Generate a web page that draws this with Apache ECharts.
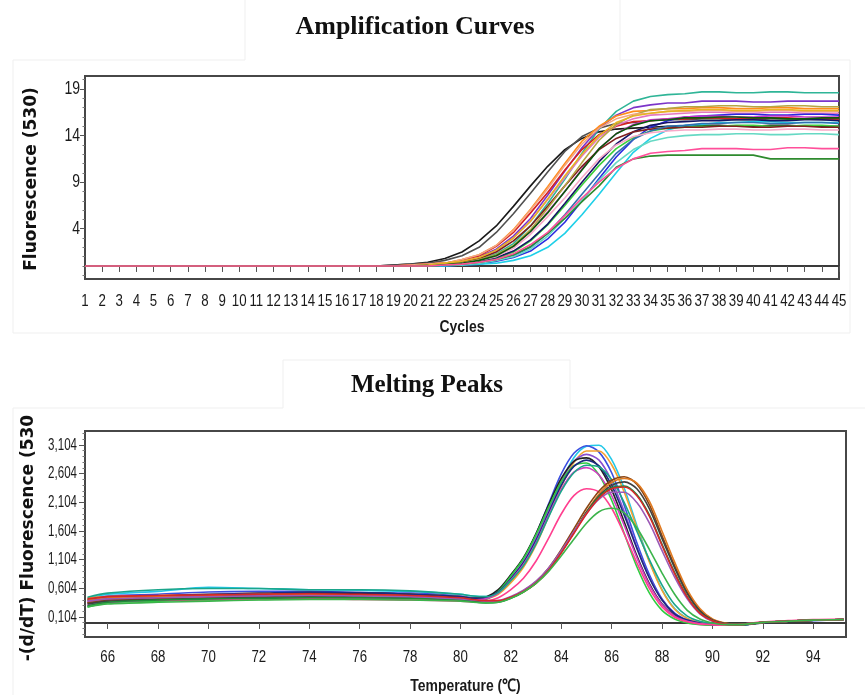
<!DOCTYPE html>
<html>
<head>
<meta charset="utf-8">
<script src="https://cdn.jsdelivr.net/npm/echarts@6/dist/echarts.min.js"></script>
<style>
  html, body { margin: 0; padding: 0; background: #fff; }
  #chart { width: 865px; height: 695px; }
</style>
</head>
<body>
<div id="chart"></div>
<script>
// ---------- Amplification curves: fluorescence (530) per cycle ----------
const CYCLES = [1, 18, 19, 20, 21, 22, 23, 24, 25, 26, 27, 28, 29, 30, 31, 32, 33, 34, 35, 36, 37, 38, 39, 40, 41, 42, 43, 44, 45];

const amp01 = [0.0, 0.0, 0.1, 0.2, 0.4, 0.8, 1.5, 2.7, 4.3, 6.4, 8.6, 10.7, 12.5, 13.7, 14.4, 14.7, 14.8, 14.9, 15.0, 15.0, 15.1, 15.1, 15.0, 15.0, 15.1, 15.1, 15.0, 15.0, 15.0];
const amp02 = [0.0, 0.0, 0.1, 0.2, 0.3, 0.6, 1.1, 2.0, 3.6, 5.6, 7.8, 10.1, 12.3, 13.9, 14.8, 15.3, 15.4, 15.6, 15.7, 15.7, 15.8, 15.8, 15.7, 15.7, 15.8, 15.8, 15.8, 15.7, 15.7];
const amp03 = [0.0, 0.0, 0.0, 0.0, 0.1, 0.2, 0.4, 0.7, 1.3, 2.4, 4.3, 6.7, 9.3, 12.1, 14.7, 16.6, 17.7, 18.2, 18.4, 18.5, 18.7, 18.7, 18.6, 18.6, 18.7, 18.7, 18.6, 18.6, 18.6];
const amp04 = [0.0, 0.0, 0.0, 0.0, 0.1, 0.3, 0.5, 1.0, 1.8, 3.2, 5.1, 7.6, 10.2, 12.7, 14.8, 16.2, 17.0, 17.3, 17.5, 17.5, 17.7, 17.7, 17.7, 17.6, 17.6, 17.7, 17.7, 17.7, 17.7];
const amp05 = [0.0, 0.0, 0.0, 0.1, 0.2, 0.3, 0.7, 1.2, 2.2, 3.9, 6.1, 8.5, 11.0, 13.4, 15.0, 16.1, 16.6, 16.7, 16.9, 16.9, 17.0, 17.0, 16.9, 16.9, 17.0, 17.0, 16.9, 16.9, 16.9];
const amp06 = [0.0, 0.0, 0.0, 0.1, 0.2, 0.3, 0.6, 1.1, 2.1, 3.6, 5.7, 7.9, 10.3, 12.5, 14.1, 15.0, 15.5, 15.6, 15.8, 15.8, 15.9, 15.9, 15.8, 15.8, 15.9, 15.9, 15.8, 15.8, 15.8];
const amp07 = [0.0, 0.0, 0.0, 0.0, 0.1, 0.2, 0.5, 0.9, 1.6, 3.0, 4.8, 7.1, 9.5, 11.8, 13.8, 15.1, 15.8, 16.2, 16.3, 16.4, 16.5, 16.5, 16.4, 16.4, 16.5, 16.5, 16.4, 16.4, 16.4];
const amp08 = [0.0, 0.0, 0.0, 0.0, 0.0, 0.0, 0.1, 0.2, 0.5, 0.9, 1.6, 2.9, 4.7, 7.0, 9.4, 11.7, 13.6, 14.9, 15.6, 16.0, 16.1, 16.2, 16.3, 16.3, 16.2, 16.2, 16.3, 16.3, 16.2];
const amp09 = [0.0, 0.0, 0.0, 0.0, 0.0, 0.0, 0.1, 0.2, 0.3, 0.6, 1.1, 2.0, 3.5, 5.5, 7.7, 10.0, 12.2, 13.7, 14.6, 15.1, 15.2, 15.4, 15.4, 15.5, 15.5, 15.4, 15.4, 15.4, 15.4];
const amp10 = [0.0, 0.0, 0.0, 0.0, 0.0, 0.1, 0.2, 0.5, 0.8, 1.5, 2.7, 4.4, 6.5, 8.7, 10.8, 12.6, 13.8, 14.5, 14.8, 14.9, 15.0, 15.0, 15.1, 15.1, 15.0, 15.0, 15.1, 15.1, 15.0];
const amp11 = [0.0, 0.0, 0.0, 0.0, 0.1, 0.2, 0.3, 0.6, 1.1, 2.1, 3.7, 5.8, 8.0, 10.4, 12.6, 14.2, 15.2, 15.7, 15.8, 16.0, 16.1, 16.1, 16.0, 16.0, 16.1, 16.1, 16.0, 16.0, 16.0];
const amp12 = [0.0, 0.0, 0.0, 0.0, 0.0, 0.1, 0.2, 0.5, 0.9, 1.6, 2.8, 4.5, 6.7, 9.0, 11.2, 13.1, 14.4, 15.1, 15.4, 15.5, 15.6, 15.6, 15.7, 15.7, 15.6, 15.6, 15.7, 15.7, 15.6];
const amp13 = [0.0, 0.0, 0.0, 0.0, 0.1, 0.2, 0.4, 0.8, 1.5, 2.7, 4.3, 6.4, 8.6, 10.7, 12.5, 13.7, 14.4, 14.7, 14.8, 14.9, 14.9, 15.0, 15.0, 14.9, 14.9, 15.0, 15.0, 14.9, 14.9];
const amp14 = [0.0, 0.0, 0.0, 0.0, 0.1, 0.2, 0.3, 0.7, 1.2, 2.2, 3.9, 6.2, 8.6, 11.1, 13.5, 15.2, 16.2, 16.8, 16.9, 17.1, 17.1, 17.2, 17.2, 17.1, 17.1, 17.2, 17.2, 17.1, 17.1];
const amp15 = [0.0, 0.0, 0.0, 0.0, 0.0, 0.1, 0.2, 0.3, 0.6, 1.1, 2.0, 3.5, 5.5, 7.7, 9.9, 12.1, 13.6, 14.5, 15.0, 15.1, 15.3, 15.3, 15.4, 15.4, 15.3, 15.3, 15.4, 15.4, 15.3];
const amp16 = [0.0, 0.0, 0.0, 0.1, 0.2, 0.3, 0.7, 1.2, 2.2, 3.8, 6.0, 8.3, 10.8, 13.1, 14.8, 15.8, 16.3, 16.4, 16.6, 16.6, 16.7, 16.7, 16.6, 16.6, 16.7, 16.7, 16.6, 16.6, 16.6];
const amp17 = [0.0, 0.0, 0.0, 0.0, 0.0, 0.1, 0.1, 0.3, 0.6, 1.0, 1.8, 3.2, 5.1, 7.1, 9.2, 11.1, 12.5, 13.4, 13.8, 14.0, 14.1, 14.1, 14.2, 14.2, 14.1, 14.1, 14.2, 14.2, 14.1];
const amp18 = [0.0, 0.0, 0.0, 0.0, 0.1, 0.1, 0.3, 0.6, 1.0, 1.9, 3.4, 5.3, 7.3, 9.5, 11.5, 13.0, 13.9, 14.3, 14.5, 14.6, 14.6, 14.7, 14.7, 14.6, 14.6, 14.7, 14.7, 14.6, 14.6];
const amp19 = [0.0, 0.0, 0.0, 0.0, 0.1, 0.2, 0.3, 0.6, 1.1, 2.1, 3.7, 5.7, 8.0, 10.3, 12.6, 14.2, 15.1, 15.6, 15.7, 15.9, 15.9, 16.0, 16.0, 15.9, 15.9, 15.8, 15.8, 15.9, 15.9];
const amp20 = [0.0, 0.0, 0.0, 0.0, 0.1, 0.3, 0.5, 0.9, 1.7, 3.0, 4.8, 7.2, 9.7, 12.0, 14.0, 15.4, 16.1, 16.4, 16.6, 16.7, 16.8, 16.8, 16.7, 16.7, 16.8, 16.8, 16.7, 16.7, 16.7];
const amp21 = [0.0, 0.0, 0.0, 0.0, 0.0, 0.1, 0.2, 0.4, 0.7, 1.2, 2.1, 3.5, 5.1, 6.9, 8.6, 10.6, 11.5, 11.8, 11.9, 11.9, 11.9, 11.9, 11.9, 11.9, 11.5, 11.5, 11.5, 11.5, 11.5];
const amp22 = [0.0, 0.0, 0.0, 0.0, 0.0, 0.1, 0.2, 0.4, 0.7, 1.3, 2.3, 3.6, 5.4, 7.3, 9.0, 10.5, 11.5, 12.1, 12.3, 12.4, 12.6, 12.6, 12.6, 12.5, 12.5, 12.7, 12.7, 12.6, 12.6];

const AMP_X_TICKS = [1, 2, 3, 4, 5, 6, 7, 8, 9, 10, 11, 12, 13, 14, 15, 16, 17, 18, 19, 20, 21, 22, 23,
                     24, 25, 26, 27, 28, 29, 30, 31, 32, 33, 34, 35, 36, 37, 38, 39, 40, 41, 42, 43, 44, 45];
const AMP_Y_TICKS = [4, 9, 14, 19];

// ---------- Melting peaks: -(d/dT) fluorescence (530) per temperature ----------
const TEMPS = [65.2, 66, 68, 70, 72, 74, 76, 78, 80, 80.5, 81, 81.5, 82, 82.5, 83, 83.5, 84, 84.5, 85, 85.5, 86, 86.5, 87, 87.5, 88, 88.5, 89, 89.5, 90, 90.5, 91, 92, 93, 94, 95.2];

const melt01 = [0.42, 0.50, 0.55, 0.62, 0.60, 0.58, 0.57, 0.55, 0.50, 0.47, 0.46, 0.52, 0.72, 1.00, 1.40, 1.92, 2.45, 2.88, 3.08, 3.10, 2.85, 2.35, 1.70, 1.08, 0.58, 0.25, 0.08, 0.01, -0.02, -0.04, -0.04, 0.01, 0.03, 0.05, 0.06];
const melt02 = [0.38, 0.47, 0.50, 0.54, 0.55, 0.55, 0.53, 0.52, 0.47, 0.44, 0.45, 0.56, 0.82, 1.12, 1.55, 2.08, 2.60, 2.96, 3.09, 2.98, 2.62, 2.05, 1.40, 0.84, 0.42, 0.17, 0.05, 0.00, -0.03, -0.04, -0.04, 0.01, 0.03, 0.04, 0.06];
const melt03 = [0.44, 0.46, 0.48, 0.50, 0.52, 0.53, 0.52, 0.50, 0.46, 0.43, 0.43, 0.50, 0.70, 0.97, 1.36, 1.86, 2.38, 2.80, 3.00, 3.00, 2.76, 2.28, 1.66, 1.06, 0.57, 0.24, 0.08, 0.01, -0.02, -0.03, -0.04, 0.01, 0.03, 0.05, 0.06];
const melt04 = [0.30, 0.40, 0.44, 0.47, 0.48, 0.50, 0.50, 0.48, 0.44, 0.42, 0.43, 0.53, 0.78, 1.07, 1.48, 1.98, 2.48, 2.82, 2.94, 2.84, 2.48, 1.94, 1.32, 0.79, 0.40, 0.16, 0.05, 0.00, -0.03, -0.04, -0.03, 0.01, 0.03, 0.05, 0.06];
const melt05 = [0.35, 0.42, 0.45, 0.48, 0.50, 0.52, 0.52, 0.50, 0.45, 0.43, 0.45, 0.58, 0.84, 1.14, 1.56, 2.06, 2.52, 2.82, 2.88, 2.72, 2.32, 1.76, 1.17, 0.68, 0.33, 0.13, 0.03, -0.01, -0.03, -0.04, -0.03, 0.01, 0.03, 0.05, 0.06];
const melt06 = [0.28, 0.35, 0.38, 0.40, 0.41, 0.42, 0.42, 0.41, 0.40, 0.39, 0.41, 0.55, 0.82, 1.12, 1.54, 2.02, 2.46, 2.74, 2.79, 2.58, 2.14, 1.56, 0.98, 0.52, 0.22, 0.07, 0.00, -0.03, -0.04, -0.04, -0.03, 0.01, 0.03, 0.05, 0.06];
const melt07 = [0.40, 0.45, 0.47, 0.50, 0.52, 0.54, 0.53, 0.50, 0.46, 0.43, 0.44, 0.54, 0.77, 1.05, 1.44, 1.92, 2.40, 2.73, 2.84, 2.74, 2.40, 1.88, 1.30, 0.78, 0.40, 0.16, 0.05, 0.00, -0.03, -0.04, -0.04, 0.00, 0.03, 0.05, 0.06];
const melt08 = [0.32, 0.36, 0.40, 0.42, 0.44, 0.45, 0.44, 0.43, 0.41, 0.40, 0.42, 0.52, 0.75, 1.02, 1.40, 1.88, 2.33, 2.63, 2.71, 2.58, 2.22, 1.70, 1.14, 0.66, 0.32, 0.12, 0.03, -0.01, -0.03, -0.04, -0.03, 0.01, 0.03, 0.05, 0.06];
const melt09 = [0.45, 0.52, 0.58, 0.60, 0.60, 0.58, 0.58, 0.56, 0.50, 0.47, 0.46, 0.53, 0.74, 1.00, 1.38, 1.85, 2.30, 2.62, 2.75, 2.72, 2.50, 2.10, 1.60, 1.10, 0.66, 0.32, 0.12, 0.03, -0.01, -0.03, -0.04, 0.01, 0.03, 0.05, 0.06];
const melt10 = [0.36, 0.40, 0.40, 0.41, 0.42, 0.42, 0.41, 0.40, 0.38, 0.37, 0.38, 0.44, 0.58, 0.78, 1.08, 1.48, 1.90, 2.22, 2.34, 2.28, 2.00, 1.55, 1.05, 0.60, 0.28, 0.10, 0.02, -0.02, -0.03, -0.04, -0.03, 0.02, 0.04, 0.06, 0.07];
const melt11 = [0.35, 0.40, 0.42, 0.44, 0.46, 0.47, 0.47, 0.45, 0.42, 0.39, 0.37, 0.38, 0.45, 0.56, 0.72, 0.96, 1.28, 1.64, 2.00, 2.30, 2.49, 2.55, 2.42, 2.06, 1.52, 1.00, 0.54, 0.23, 0.06, -0.01, -0.03, 0.01, 0.03, 0.05, 0.06];
const melt12 = [0.40, 0.44, 0.46, 0.48, 0.50, 0.50, 0.49, 0.47, 0.43, 0.40, 0.38, 0.38, 0.44, 0.54, 0.69, 0.92, 1.23, 1.58, 1.94, 2.25, 2.45, 2.52, 2.44, 2.12, 1.60, 1.06, 0.58, 0.25, 0.07, 0.00, -0.03, 0.01, 0.03, 0.05, 0.06];
const melt13 = [0.33, 0.38, 0.41, 0.43, 0.45, 0.46, 0.46, 0.44, 0.41, 0.38, 0.36, 0.37, 0.44, 0.55, 0.70, 0.93, 1.24, 1.58, 1.93, 2.22, 2.40, 2.46, 2.34, 1.99, 1.47, 0.96, 0.51, 0.21, 0.05, -0.01, -0.03, 0.00, 0.03, 0.05, 0.06];
const melt14 = [0.30, 0.36, 0.40, 0.42, 0.43, 0.44, 0.44, 0.43, 0.40, 0.37, 0.35, 0.36, 0.43, 0.54, 0.70, 0.93, 1.24, 1.58, 1.92, 2.20, 2.36, 2.39, 2.24, 1.88, 1.37, 0.88, 0.46, 0.18, 0.04, -0.02, -0.03, 0.01, 0.03, 0.05, 0.06];
const melt15 = [0.38, 0.42, 0.44, 0.46, 0.47, 0.48, 0.47, 0.46, 0.42, 0.40, 0.38, 0.39, 0.46, 0.57, 0.73, 0.96, 1.26, 1.59, 1.91, 2.16, 2.28, 2.28, 2.10, 1.74, 1.26, 0.80, 0.42, 0.16, 0.03, -0.02, -0.03, 0.01, 0.03, 0.05, 0.06];
const melt16 = [0.42, 0.46, 0.48, 0.49, 0.50, 0.51, 0.50, 0.48, 0.44, 0.41, 0.39, 0.39, 0.45, 0.55, 0.70, 0.92, 1.22, 1.56, 1.90, 2.18, 2.34, 2.37, 2.22, 1.86, 1.35, 0.86, 0.45, 0.17, 0.04, -0.02, -0.03, 0.01, 0.03, 0.05, 0.06];
const melt17 = [0.28, 0.33, 0.36, 0.38, 0.40, 0.41, 0.41, 0.40, 0.38, 0.36, 0.35, 0.36, 0.43, 0.54, 0.69, 0.90, 1.17, 1.46, 1.74, 1.94, 2.00, 1.92, 1.66, 1.28, 0.87, 0.50, 0.22, 0.07, 0.00, -0.03, -0.03, 0.01, 0.03, 0.05, 0.06];

const MELT_Y_TICKS = [0.104, 0.604, 1.104, 1.604, 2.104, 2.604, 3.104];
const MELT_Y_LABELS = ['0,104', '0,604', '1,104', '1,604', '2,104', '2,604', '3,104'];
const MELT_X_TICKS = [66, 68, 70, 72, 74, 76, 78, 80, 82, 84, 86, 88, 90, 92, 94];

// ---------- axis ranges ----------
const AMP_X_MIN = 1, AMP_X_MAX = 45, AMP_Y_MIN = -1.4, AMP_Y_MAX = 20.4;
const MELT_X_MIN = 65.1, MELT_X_MAX = 95.3, MELT_Y_MIN = -0.245, MELT_Y_MAX = 3.348;

// ---------- styling ----------
const AMP_CURVES = [amp01, amp02, amp03, amp04, amp05, amp06, amp07, amp08, amp09, amp10, amp11,
                    amp12, amp13, amp14, amp15, amp16, amp17, amp18, amp19, amp20, amp21, amp22];
const AMP_COLORS = ['#1a1a1a', '#505050', '#2fb597', '#7b35c9', '#ff8c1a', '#d62020', '#e377c2', '#2a2ae0',
                    '#1fd0e8', '#3ccf3c', '#c832c8', '#141466', '#7f1f1f', '#b5a642', '#3070b0', '#f4a582',
                    '#66d9c4', '#f7a8c8', '#0a5a0a', '#e6b422', '#2e8b2e', '#ff4f9a'];
const MELT_CURVES = [melt01, melt02, melt03, melt04, melt05, melt06, melt07, melt08, melt09,
                     melt10, melt11, melt12, melt13, melt14, melt15, melt16, melt17];
const MELT_COLORS = ['#22c8e8', '#3a4ee0', '#f5a030', '#8a4fd0', '#222222', '#2ecc40', '#1c2a80', '#d040c0', '#1aa58a',
                     '#ff3f8f', '#8b4513', '#e07a20', '#404040', '#1e8c3a', '#9b59b6', '#d62728', '#3cb44b'];

const SANS = '"Liberation Sans", Arial, sans-serif';
const SERIF = '"Liberation Serif", "Times New Roman", serif';
const TXT = '#1a1a1a';
const SQUEEZE = 0.78;   // horizontal squeeze giving the narrow tick-label face

// minor tick positions between the labelled ticks
const ampMinor = [];
for (let v = -1; v <= 20; v++) if (AMP_Y_TICKS.indexOf(v) < 0) ampMinor.push(v);
const meltMinor = [];
for (let k = -3; k <= 32; k++) if (k % 5 !== 0) meltMinor.push(+(0.104 + k * 0.1).toFixed(3));

const series = [];
AMP_CURVES.forEach((vals, i) => {
  series.push({
    type: 'line', xAxisIndex: 0, yAxisIndex: 0,
    data: CYCLES.map((c, j) => [c, vals[j]]),
    showSymbol: false, silent: true,
    lineStyle: { width: 1.6, color: AMP_COLORS[i] },
    z: 3 + i
  });
});
MELT_CURVES.forEach((vals, i) => {
  series.push({
    type: 'line', xAxisIndex: 1, yAxisIndex: 2,
    data: TEMPS.map((t, j) => [t, vals[j]]),
    showSymbol: false, silent: true, smooth: 0.3,
    lineStyle: { width: 1.6, color: MELT_COLORS[i] },
    z: 3 + i
  });
});

const frame = { show: true, borderColor: '#474747', borderWidth: 2, backgroundColor: '#fff' };
const tick = (len, color, values) => ({ show: true, length: len, customValues: values, lineStyle: { color } });

const option = {
  animation: false,
  backgroundColor: '#fff',
  grid: [
    Object.assign({ left: 85, top: 76, width: 754, height: 203 }, frame),
    Object.assign({ left: 85, top: 431, width: 761, height: 206 }, frame)
  ],
  xAxis: [
    {
      type: 'value', gridIndex: 0, min: AMP_X_MIN, max: AMP_X_MAX, interval: 1,
      axisLine: { show: true, lineStyle: { color: '#3a3a3a', width: 2 } },
      axisTick: tick(6, '#555', AMP_X_TICKS),
      axisLabel: { show: false }, splitLine: { show: false }
    },
    {
      type: 'value', gridIndex: 1, min: MELT_X_MIN, max: MELT_X_MAX,
      axisLine: { show: true, lineStyle: { color: '#3a3a3a', width: 2 } },
      axisTick: tick(6, '#555', MELT_X_TICKS),
      axisLabel: { show: false }, splitLine: { show: false }
    }
  ],
  yAxis: [
    { type: 'value', gridIndex: 0, min: AMP_Y_MIN, max: AMP_Y_MAX, position: 'left',
      axisLine: { show: false }, axisTick: tick(5, '#555', AMP_Y_TICKS),
      axisLabel: { show: false }, splitLine: { show: false } },
    { type: 'value', gridIndex: 0, min: AMP_Y_MIN, max: AMP_Y_MAX, position: 'left',
      axisLine: { show: false }, axisTick: tick(2.5, '#777', ampMinor),
      axisLabel: { show: false }, splitLine: { show: false } },
    { type: 'value', gridIndex: 1, min: MELT_Y_MIN, max: MELT_Y_MAX, position: 'left',
      axisLine: { show: false }, axisTick: tick(6, '#555', MELT_Y_TICKS),
      axisLabel: { show: false }, splitLine: { show: false } },
    { type: 'value', gridIndex: 1, min: MELT_Y_MIN, max: MELT_Y_MAX, position: 'left',
      axisLine: { show: false }, axisTick: tick(2.5, '#777', meltMinor),
      axisLabel: { show: false }, splitLine: { show: false } }
  ],
  series: series
};

const chart = echarts.init(document.getElementById('chart'), null, { renderer: 'canvas' });
chart.setOption(option);

// ---------- text: titles, axis names and tick labels placed through the axis scales ----------
function label(x, y, text, align, opts) {
  opts = opts || {};
  return {
    type: 'text', x: x, y: y, scaleX: opts.scaleX || SQUEEZE, rotation: opts.rotation || 0, silent: true, z: 50,
    style: { text: text, fontFamily: opts.family || SANS, fontSize: opts.size || 17, fontWeight: opts.weight || 'normal',
             fill: opts.fill || TXT, align: align, verticalAlign: 'middle' }
  };
}
const px = (grid, pt) => chart.convertToPixel({ gridIndex: grid }, pt);

const graphics = [
  // faint panel outlines
  { type: 'polyline', silent: true, z: 0, shape: { points: [[245, 0], [245, 60], [13, 60], [13, 333], [850, 333], [850, 60], [620, 60], [620, 0]] },
    style: { stroke: '#efefef', lineWidth: 1, fill: null } },
  { type: 'polyline', silent: true, z: 0, shape: { points: [[283, 360], [283, 408], [13, 408], [13, 695]] },
    style: { stroke: '#efefef', lineWidth: 1, fill: null } },
  { type: 'polyline', silent: true, z: 0, shape: { points: [[283, 360], [570, 360], [570, 408], [865, 408]] },
    style: { stroke: '#efefef', lineWidth: 1, fill: null } },
  // titles
  label(415, 27, 'Amplification Curves', 'center', { family: SERIF, size: 26, weight: 'bold', scaleX: 1, fill: '#111' }),
  label(427, 386, 'Melting Peaks', 'center', { family: SERIF, size: 25, weight: 'bold', scaleX: 1, fill: '#111' }),
  // y-axis names
  label(32, 179, 'Fluorescence (530)', 'center', { family: '"DejaVu Sans", sans-serif', size: 17, weight: 'bold', scaleX: 1, rotation: Math.PI / 2, fill: '#111' }),
  label(29, 538, '-(d/dT) Fluorescence (530', 'center', { family: '"DejaVu Sans", sans-serif', size: 17, weight: 'bold', scaleX: 1, rotation: Math.PI / 2, fill: '#111' })
];

// amplification axes
AMP_X_TICKS.forEach(v => {
  const p = px(0, [v, AMP_Y_MIN]);
  graphics.push(label(p[0], p[1] + 22, String(v), 'center'));
});
AMP_Y_TICKS.forEach(v => {
  const p = px(0, [AMP_X_MIN, v]);
  graphics.push(label(p[0] - 5, p[1], String(v), 'right', { size: 18 }));
});
{
  const a = px(0, [AMP_X_MIN, AMP_Y_MIN]), b = px(0, [AMP_X_MAX, AMP_Y_MIN]);
  graphics.push(label((a[0] + b[0]) / 2, a[1] + 48, 'Cycles', 'center', { weight: 'bold', scaleX: 0.82 }));
}
// melting axes
MELT_X_TICKS.forEach(v => {
  const p = px(1, [v, MELT_Y_MIN]);
  graphics.push(label(p[0], p[1] + 20, String(v), 'center'));
});
MELT_Y_TICKS.forEach((v, i) => {
  const p = px(1, [MELT_X_MIN, v]);
  graphics.push(label(p[0] - 8, p[1], MELT_Y_LABELS[i], 'right', { scaleX: 0.68 }));
});
{
  const a = px(1, [MELT_X_MIN, MELT_Y_MIN]), b = px(1, [MELT_X_MAX, MELT_Y_MIN]);
  graphics.push(label((a[0] + b[0]) / 2, a[1] + 49, 'Temperature (\u2103)', 'center', { weight: 'bold', scaleX: 0.82 }));
}

chart.setOption({ graphic: graphics });
</script>
</body>
</html>
